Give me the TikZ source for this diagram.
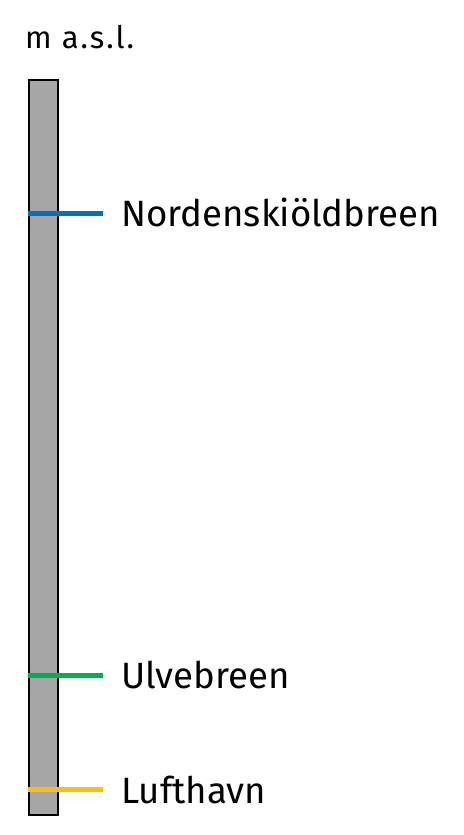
\documentclass[tikz,border=0pt]{standalone}
\usepackage{fontspec}
\setmainfont{Fira Sans}
\definecolor{barfill}{RGB}{166,166,166}
\definecolor{lnblue}{RGB}{0,112,192}
\definecolor{lngreen}{RGB}{0,176,80}
\definecolor{lnyellow}{RGB}{255,192,0}
\tikzset{
  level/.style={line width=5pt},
  lbl/.style={anchor=base west, inner sep=0pt, font=\fontsize{36.6}{40}\selectfont},
}
\begin{document}
\begin{tikzpicture}[x=1pt,y=1pt]
\useasboundingbox (0,0) rectangle (463,835);
\node[anchor=base west, inner sep=0pt, font=\fontsize{31}{34}\selectfont\addfontfeature{LetterSpace=6}] (unit) at (25,786) {m a.s.l.};
\node[draw=black, line width=2pt, fill=barfill, minimum width=29pt, minimum height=735pt, inner sep=0pt, anchor=north west] (bar) at (28,756) {};
\coordinate (b1) at (28,621);
\coordinate (e1) at (103,621);
\coordinate (b2) at (28,159);
\coordinate (e2) at (103,159);
\coordinate (b3) at (28,45);
\coordinate (e3) at (103,45);
\draw[level, lnblue] (b1) -- (e1);
\draw[level, lngreen] (b2) -- (e2);
\draw[level, lnyellow] (b3) -- (e3);
\node[lbl] (n1) at (121,608) {Nordenskiöldbreen};
\node[lbl] (n2) at (121,146) {Ulvebreen};
\node[lbl] (n3) at (121,31) {Lufthavn};
\end{tikzpicture}
\end{document}
